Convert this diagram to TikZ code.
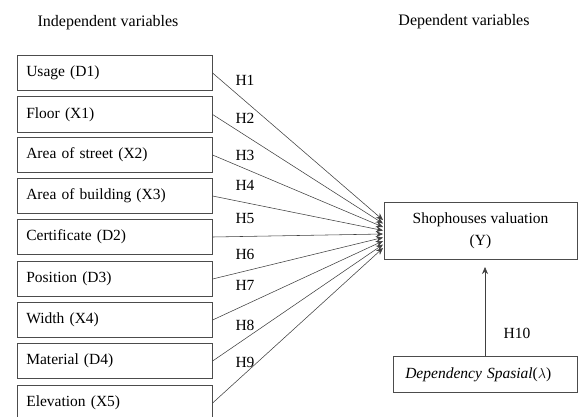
\documentclass[tikz,border=0pt]{standalone}
\usepackage{fontspec}
\setmainfont{Liberation Serif}
\usetikzlibrary{arrows.meta}
\tikzset{
  varbox/.style={draw=black!70, line width=0.6pt, rectangle, minimum height=35.5pt,
    text width=177pt, inner xsep=9pt, align=left, anchor=west, font=\fontsize{15.5}{18}\selectfont},
  hlabel/.style={font=\fontsize{15.5}{18}\selectfont},
  path/.style={draw=black!75, line width=0.55pt, -{Stealth[length=7pt,width=6pt]}}
}
\begin{document}
\begin{tikzpicture}[x=1pt,y=-1pt]
  \useasboundingbox (0,0) rectangle (578,416);
  \node[font=\fontsize{16}{18}\selectfont] (indep) at (108,23) {Independent variables};
  \node[font=\fontsize{16}{18}\selectfont] (dep) at (464,22) {Dependent variables};
  % independent variables
  \node[varbox] (d1) at (17,73) {Usage (D1)};
  \node[varbox] (x1) at (17,114.5) {Floor (X1)};
  \node[varbox] (x2) at (17,155) {Area of street (X2)};
  \node[varbox] (x3) at (17,196) {Area of building (X3)};
  \node[varbox] (d2) at (17,237) {Certificate (D2)};
  \node[varbox] (d3) at (17,279) {Position (D3)};
  \node[varbox] (x4) at (17,320) {Width (X4)};
  \node[varbox] (d4) at (17,361) {Material (D4)};
  \node[varbox] (x5) at (17,403) {Elevation (X5)};
  % dependent variable
  \node[draw=black!70, line width=0.6pt, minimum width=193pt, minimum height=57pt,
    align=center, font=\fontsize{15.5}{22}\selectfont] (y) at (480.5,230.5)
    {Shophouses valuation\\(Y)};
  \node[varbox, text width=160pt, inner xsep=12pt] (lambda) at (393,374.5)
    {\textit{Dependency Spasial}(\(\lambda\))};
  % ends of the arrows
  \coordinate (t1) at (383,220);
  \coordinate (t2) at (383,223.5);
  \coordinate (t3) at (383,227);
  \coordinate (t4) at (383,230.5);
  \coordinate (t5) at (383,234);
  \coordinate (t6) at (383,237.5);
  \coordinate (t7) at (383,241);
  \coordinate (t8) at (383,244.5);
  \coordinate (t9) at (383,248);
  \begin{scope}[every path/.style={path}]
    \draw (d1.east) to (t1);
    \draw (x1.east) to (t2);
    \draw (x2.east) to (t3);
    \draw (x3.east) to (t4);
    \draw (d2.east) to (t5);
    \draw (d3.east) to (t6);
    \draw (x4.east) to (t7);
    \draw (d4.east) to (t8);
    \draw (x5.east) to (t9);
    \draw[shorten >=8pt] (lambda.north -| 485,0) to (485,259);
  \end{scope}
  % hypotheses
  \node[hlabel] (h1) at (245,80) {H1};
  \node[hlabel] (h2) at (245,118) {H2};
  \node[hlabel] (h3) at (245,155) {H3};
  \node[hlabel] (h4) at (245,185) {H4};
  \node[hlabel] (h5) at (245,218) {H5};
  \node[hlabel] (h6) at (245,254) {H6};
  \node[hlabel] (h7) at (245,285) {H7};
  \node[hlabel] (h8) at (245,325) {H8};
  \node[hlabel] (h9) at (245,362) {H9};
  \node[hlabel] (h10) at (517,333) {H10};
\end{tikzpicture}
\end{document}
